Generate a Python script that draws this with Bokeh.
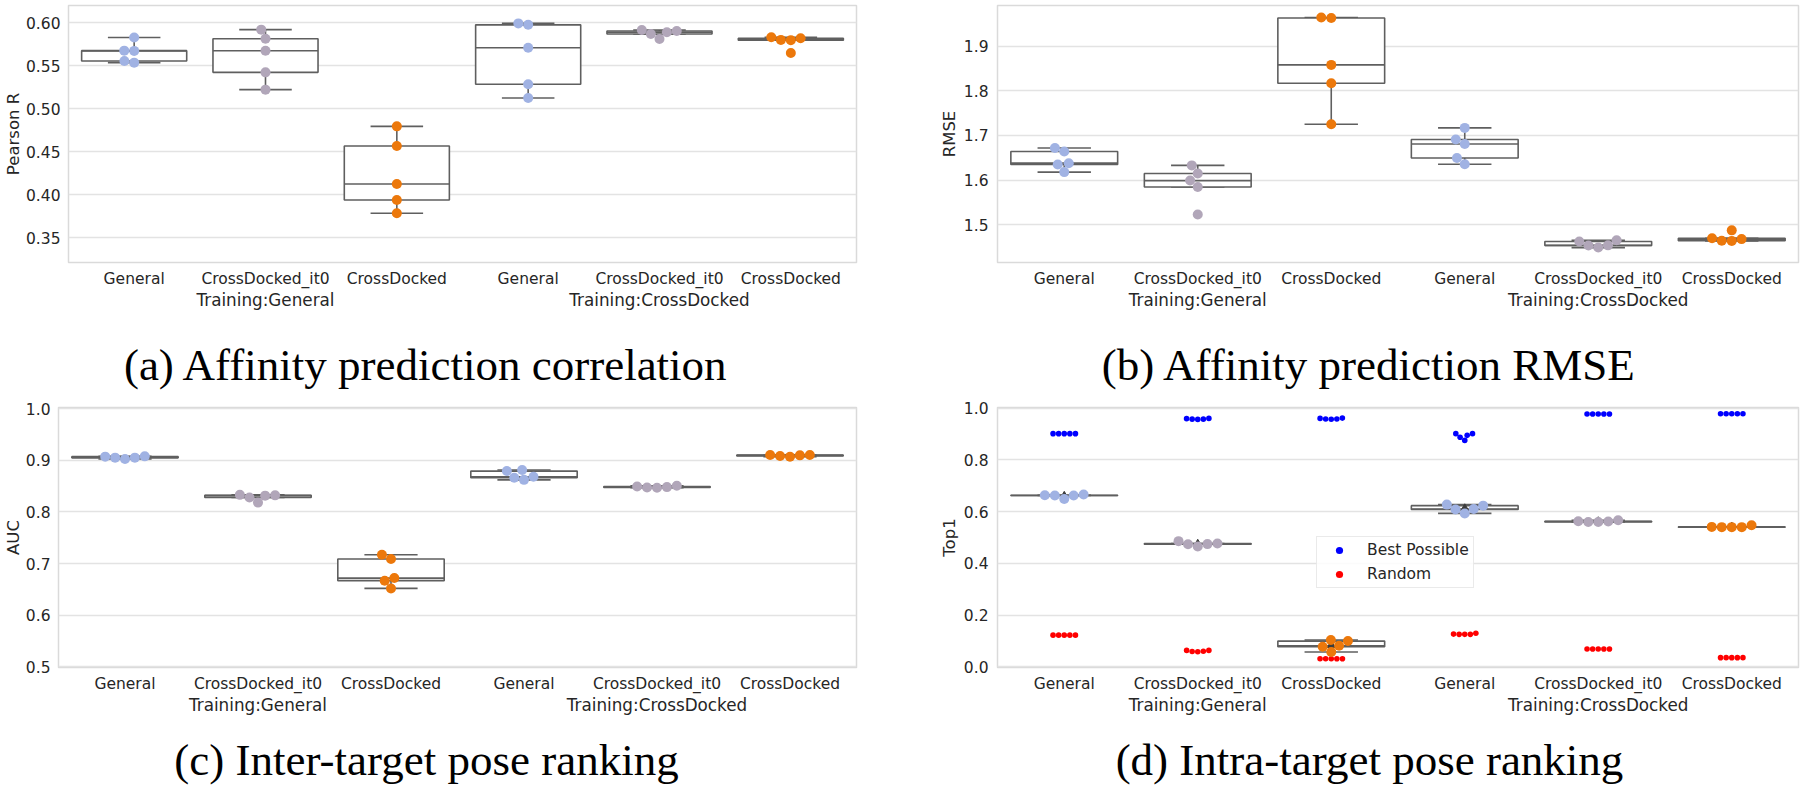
import numpy as np
from bokeh.plotting import figure
from bokeh.models import FixedTicker, LinearAxis, NumeralTickFormatter, Range1d, Legend, LegendItem
from bokeh.layouts import column, row
from bokeh.embed import file_html
from bokeh.resources import INLINE
from bokeh.core.properties import value

# ---------------- data ----------------
categories = ["General", "CrossDocked_it0", "CrossDocked",
              "General", "CrossDocked_it0", "CrossDocked"]
groups = ["Training:General", "Training:CrossDocked"]
group_pos = [1, 4]
cat_colors = ["#a0b2e3", "#b1a6b9", "#ec780b", "#a0b2e3", "#b1a6b9", "#ec780b"]

pearson_r = [
    [0.5535, 0.5555, 0.5672, 0.5675, 0.5828],
    [0.5221, 0.5422, 0.5674, 0.5814, 0.5919],
    [0.3783, 0.3938, 0.4124, 0.4566, 0.4794],
    [0.5124, 0.5283, 0.5709, 0.5975, 0.5992],
    [0.5810, 0.5868, 0.5888, 0.5903, 0.5915],
    [0.5648, 0.5797, 0.5800, 0.5818, 0.5830],
]
rmse = [
    [1.618, 1.635, 1.638, 1.664, 1.672],
    [1.523, 1.5845, 1.599, 1.615, 1.633],
    [1.725, 1.817, 1.858, 1.963, 1.964],
    [1.6355, 1.6495, 1.681, 1.691, 1.717],
    [1.449, 1.4536, 1.454, 1.4625, 1.4654],
    [1.464, 1.4642, 1.468, 1.4698, 1.4876],
]
auc = [
    [0.9024, 0.905, 0.905, 0.9069, 0.9075],
    [0.818, 0.828, 0.8315, 0.832, 0.833],
    [0.652, 0.667, 0.672, 0.709, 0.717],
    [0.862, 0.866, 0.868, 0.879, 0.881],
    [0.8468, 0.8472, 0.848, 0.849, 0.8505],
    [0.9068, 0.9082, 0.9094, 0.910, 0.9102],
]
top1 = [
    [0.649, 0.662, 0.662, 0.663, 0.666],
    [0.465, 0.474, 0.4745, 0.477, 0.486],
    [0.058, 0.078, 0.082, 0.100, 0.104],
    [0.593, 0.608, 0.610, 0.623, 0.627],
    [0.560, 0.560, 0.5617, 0.563, 0.5668],
    [0.540, 0.540, 0.540, 0.541, 0.5476],
]
best_possible = [
    [0.901, 0.901, 0.901, 0.901, 0.901],
    [0.956, 0.957, 0.957, 0.959, 0.960],
    [0.9563, 0.9576, 0.9576, 0.960, 0.961],
    [0.875, 0.887, 0.8945, 0.901, 0.901],
    [0.977, 0.977, 0.977, 0.977, 0.977],
    [0.978, 0.978, 0.978, 0.978, 0.978],
]
random_top1 = [
    [0.123, 0.123, 0.123, 0.123, 0.123],
    [0.059, 0.060, 0.061, 0.064, 0.064],
    [0.032, 0.032, 0.032, 0.032, 0.032],
    [0.126, 0.126, 0.126, 0.127, 0.130],
    [0.0694, 0.0694, 0.0694, 0.0694, 0.0694],
    [0.036, 0.036, 0.036, 0.036, 0.036],
]
captions_top = ["(a) Affinity prediction correlation", "(b) Affinity prediction RMSE"]
captions_bottom = ["(c) Inter-target pose ranking", "(d) Intra-target pose ranking"]

# ---------------- styling ----------------
SANS = "DejaVu Sans"
TXT = "#262626"
BOX = "#5f5f5f"
GRID = "#e3e3e3"


def swarm_offsets(vals, px_per_unit, d):
    vals = np.asarray(vals, float)
    order = np.argsort(vals, kind="stable")
    placed = []
    offs = np.zeros(len(vals))
    for i in order:
        y = vals[i] * px_per_unit
        cands = [0.0]
        for (px, py) in placed:
            dy = y - py
            if abs(dy) < d:
                dx = float(np.sqrt(d * d - dy * dy))
                cands += [px - dx, px + dx]
        cands.sort(key=abs)
        chosen = cands[-1]
        for c in cands:
            if all((c - px) ** 2 + (y - py) ** 2 >= d * d - 1e-6 for px, py in placed):
                chosen = c
                break
        placed.append((chosen, y))
        offs[i] = chosen
    return offs


def make_panel(data, ylim, yticks, fmt, ylabel, width, height, left, right, top, bottom,
               label_standoff=2, tick_standoff=9, show_means=False, extras=None):
    fw = width - left - right
    fh = height - top - bottom
    p = figure(width=width, height=height, x_range=Range1d(-0.5, 5.5),
               y_range=Range1d(*ylim), toolbar_location=None, output_backend="svg",
               min_border_left=left, min_border_right=right,
               min_border_top=top, min_border_bottom=bottom,
               x_axis_location=None, title=None)
    p.outline_line_color = "#dadada"
    p.outline_line_width = 1.5
    p.xgrid.visible = False
    p.ygrid.grid_line_color = GRID
    p.ygrid.grid_line_width = 1.5
    p.ygrid.ticker = FixedTicker(ticks=yticks)

    ya = p.yaxis[0]
    ya.ticker = FixedTicker(ticks=yticks)
    ya.formatter = NumeralTickFormatter(format=fmt)
    ya.axis_line_color = None
    ya.major_tick_line_color = None
    ya.minor_tick_line_color = None
    ya.major_tick_out = 0
    ya.major_tick_in = 0
    ya.minor_tick_out = 0
    ya.minor_tick_in = 0
    ya.major_label_standoff = tick_standoff
    ya.major_label_text_font = SANS
    ya.major_label_text_font_size = "15.5px"
    ya.major_label_text_color = TXT
    ya.axis_label = ylabel
    ya.axis_label_text_font = SANS
    ya.axis_label_text_font_size = "16.5px"
    ya.axis_label_text_font_style = "normal"
    ya.axis_label_text_color = TXT
    ya.axis_label_standoff = label_standoff

    xa = LinearAxis(ticker=FixedTicker(ticks=list(range(6))),
                    major_label_overrides={i: c for i, c in enumerate(categories)})
    xg = LinearAxis(ticker=FixedTicker(ticks=group_pos),
                    major_label_overrides={g: t for g, t in zip(group_pos, groups)})
    for ax, so, fs in ((xa, 7, "15.5px"), (xg, -1, "16.8px")):
        ax.axis_line_color = None
        ax.major_tick_line_color = None
        ax.minor_tick_line_color = None
        ax.major_tick_out = 0
        ax.major_tick_in = 0
        ax.minor_tick_out = 0
        ax.minor_tick_in = 0
        ax.major_label_standoff = so
        ax.major_label_text_font = SANS
        ax.major_label_text_font_size = fs
        ax.major_label_text_color = TXT
        p.add_layout(ax, "below")

    px_per_unit = fh / (ylim[1] - ylim[0])
    x_per_px = 6.0 / fw

    # boxes
    L, R, B, T, MED, X, LO, HI = [], [], [], [], [], [], [], []
    for i, v in enumerate(data):
        v = np.asarray(v, float)
        q1, med, q3 = np.percentile(v, [25, 50, 75])
        iqr = q3 - q1
        lo = v[v >= q1 - 1.5 * iqr].min()
        hi = v[v <= q3 + 1.5 * iqr].max()
        X.append(i); L.append(i - 0.4); R.append(i + 0.4)
        B.append(q1); T.append(q3); MED.append(med); LO.append(lo); HI.append(hi)
    X = np.array(X, float)
    p.segment(X, T, X, HI, line_color=BOX, line_width=1.6)
    p.segment(X, B, X, LO, line_color=BOX, line_width=1.6)
    p.segment(X - 0.2, HI, X + 0.2, HI, line_color=BOX, line_width=1.6)
    p.segment(X - 0.2, LO, X + 0.2, LO, line_color=BOX, line_width=1.6)
    p.quad(left=L, right=R, bottom=B, top=T, fill_color="white",
           line_color=BOX, line_width=1.6)
    p.segment(L, MED, R, MED, line_color=BOX, line_width=1.6)
    if show_means:
        p.scatter(X, [float(np.mean(v)) for v in data], marker="triangle",
                  size=8, color="#3c3c3c")

    renderers = {}
    if extras:
        for key, (vals_list, color) in extras.items():
            xs, ys = [], []
            for i, v in enumerate(vals_list):
                offs = swarm_offsets(v, px_per_unit, 5.6)
                xs += list(i + offs * x_per_px)
                ys += list(v)
            renderers[key] = p.scatter(xs, ys, size=5.6, fill_color=color, line_color=None)

    xs, ys, cs = [], [], []
    for i, v in enumerate(data):
        offs = swarm_offsets(v, px_per_unit, 10)
        xs += list(i + offs * x_per_px)
        ys += list(v)
        cs += [cat_colors[i]] * len(v)
    p.scatter(xs, ys, size=10, fill_color=cs, line_color=None)
    return p, renderers


pa, _ = make_panel(pearson_r, (0.321, 0.620), [0.35, 0.40, 0.45, 0.50, 0.55, 0.60], "0.00",
                   "Pearson R", 925, 318, 63, 69, 5, 56, label_standoff=0, tick_standoff=8)
pb, _ = make_panel(rmse, (1.4156, 1.991), [1.5, 1.6, 1.7, 1.8, 1.9], "0.0",
                   "RMSE", 875, 318, 72, 2, 5, 56)
pc, _ = make_panel(auc, (0.499, 1.002), [0.5, 0.6, 0.7, 0.8, 0.9, 1.0], "0.0",
                   "AUC", 925, 320, 55, 69, 7, 53, label_standoff=0, tick_standoff=8)
pd_, rd = make_panel(top1, (-0.002, 1.002), [0.0, 0.2, 0.4, 0.6, 0.8, 1.0], "0.0",
                     "Top1", 875, 320, 72, 2, 7, 53, show_means=True,
                     extras={"bp": (best_possible, "#0000ff"), "rnd": (random_top1, "#ff0000")})

legend = Legend(items=[LegendItem(label="Best Possible", renderers=[rd["bp"]]),
                       LegendItem(label="Random", renderers=[rd["rnd"]])],
                location=(319, 79), margin=0, padding=4, spacing=6,
                glyph_height=18, glyph_width=36, label_height=18, label_standoff=10,
                label_text_font=SANS, label_text_font_size="15.5px", label_text_color=TXT,
                border_line_color="#d6d6d6", border_line_width=1,
                background_fill_color="white", background_fill_alpha=0.85)
pd_.add_layout(legend)


def caption_fig(h, baseline, texts):
    c = figure(width=1800, height=h, x_range=Range1d(0, 1800), y_range=Range1d(0, h),
               toolbar_location=None, output_backend="svg", min_border=0,
               min_border_left=0, min_border_right=0, min_border_top=0, min_border_bottom=0,
               x_axis_location=None, y_axis_location=None, title=None)
    c.grid.visible = False
    c.outline_line_color = None
    c.text(x=[426, 1369], y=[baseline, baseline], text=texts, text_align="center",
           text_baseline="alphabetic", text_font=value("Liberation Serif"),
           text_font_size="45px", text_color="black")
    return c


cap1 = caption_fig(82, 36, captions_top)
cap2 = caption_fig(70, 31, captions_bottom)

layout = column(row(pa, pb), cap1, row(pc, pd_), cap2)
open("out.html", "w").write(file_html(layout, INLINE))
